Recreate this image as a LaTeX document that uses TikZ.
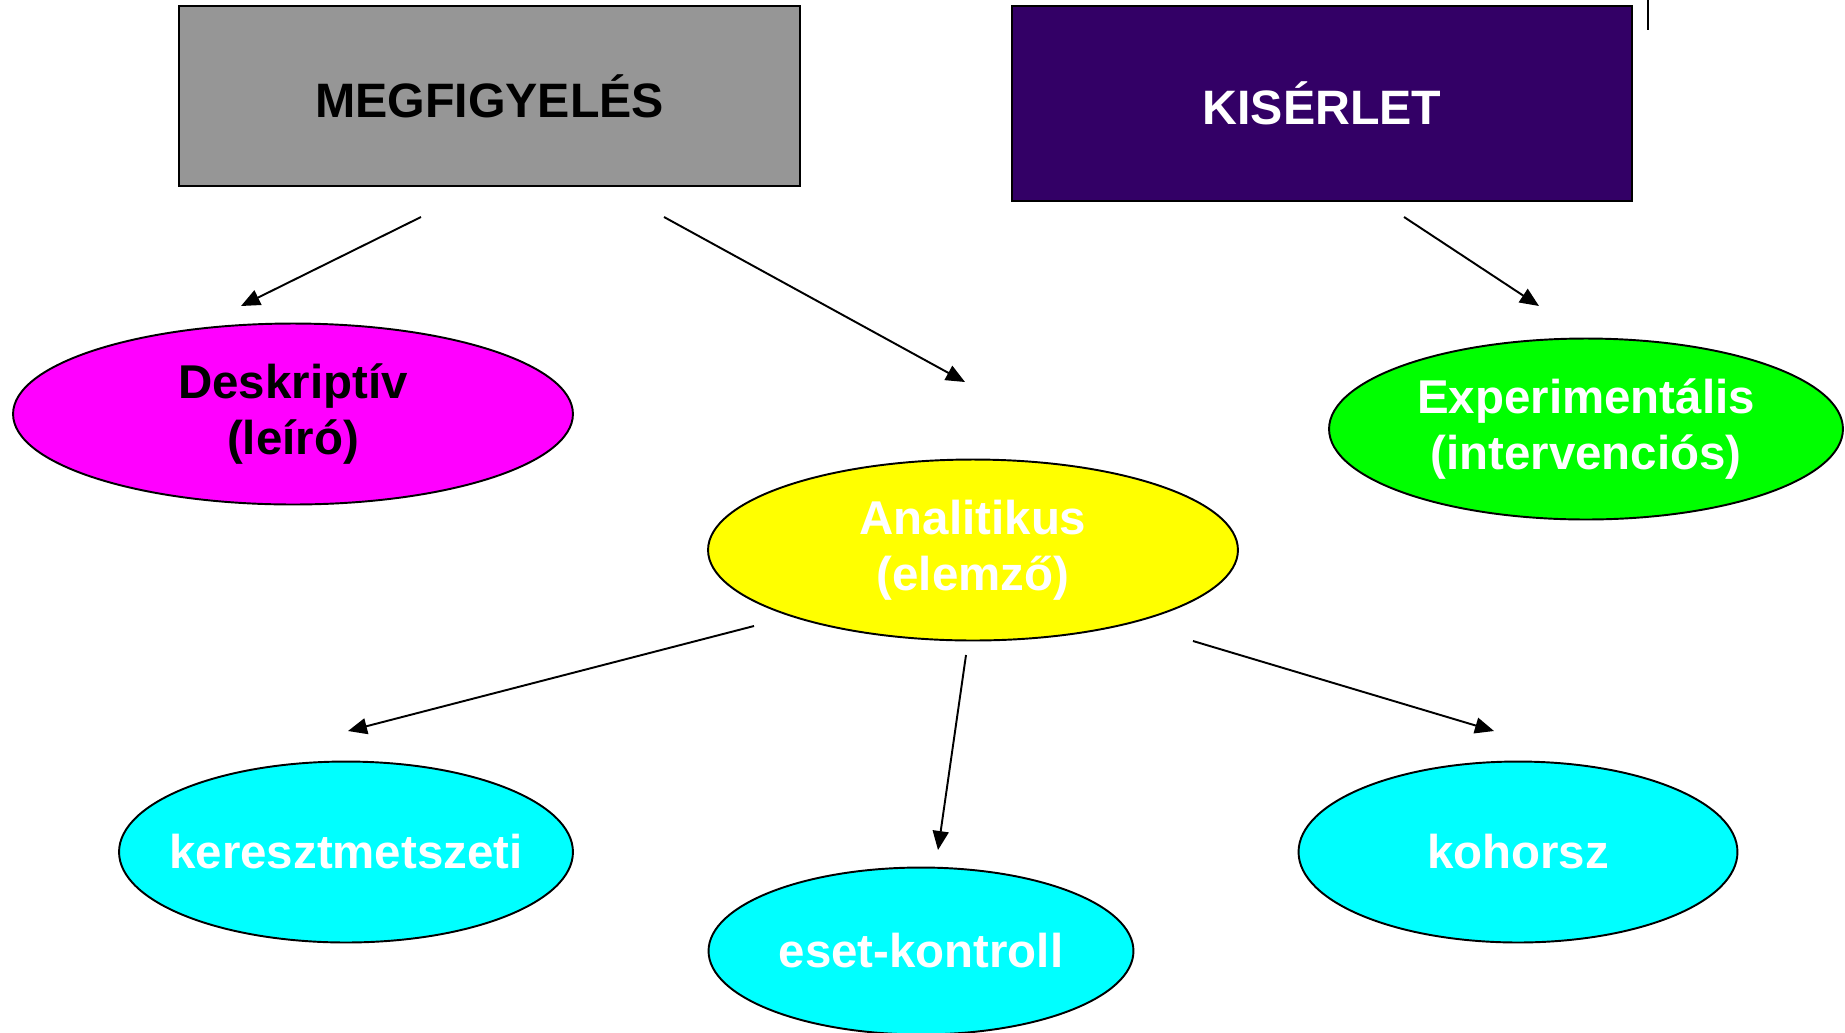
\documentclass[tikz,border=0pt]{standalone}
\usepackage{fontspec}
\setmainfont{Liberation Sans}
\usetikzlibrary{arrows.meta,shapes.geometric}

\definecolor{boxgray}{HTML}{969696}
\definecolor{boxpurple}{HTML}{330066}
\definecolor{descpink}{HTML}{FF00FF}
\definecolor{analyellow}{HTML}{FFFF00}
\definecolor{expgreen}{HTML}{00FF00}
\definecolor{studycyan}{HTML}{00FFFF}

\begin{document}
\begin{tikzpicture}[x=0.02cm,y=-0.02cm]
\tikzset{
  topbox/.style={rectangle,draw=black,line width=1.1pt,minimum width=12.42cm,inner sep=0pt,
    font=\fontsize{27.5}{32}\selectfont\bfseries},
  typenode/.style={ellipse,draw=black,line width=1.1pt,minimum height=3.62cm,inner sep=0pt,inner xsep=-1cm,
    align=center,font=\fontsize{27}{32}\selectfont\bfseries,text=white},
  directed/.style={-{Triangle[length=3.8mm,width=3.2mm]},line width=1.1pt}
}
\useasboundingbox (0,0) rectangle (1845,1032);
\node[topbox,fill=boxgray,minimum height=3.6cm] (n_meg) at (489.5,96) {MEGFIGYELÉS};
\node[topbox,fill=boxpurple,text=white,minimum height=3.9cm] (n_kis) at (1322,103.5) {KISÉRLET};
\node[typenode,fill=descpink,text=black,minimum width=11.2cm] (n_desk) at (293,414) {Deskriptív\\(leíró)};
\node[typenode,fill=analyellow,minimum width=10.6cm] (n_anal) at (973,550) {Analitikus\\(elemző)};
\node[typenode,fill=expgreen,minimum width=10.28cm] (n_exp) at (1586,429) {Experimentális\\(intervenciós)};
\node[typenode,fill=studycyan,minimum width=9.08cm] (n_kereszt) at (346,852) {keresztmetszeti};
\node[typenode,fill=studycyan,minimum width=8.5cm,minimum height=3.34cm] (n_eset) at (921,951) {eset-kontroll};
\node[typenode,fill=studycyan,minimum width=8.78cm] (n_kohorsz) at (1518,852) {kohorsz};
% free arrow ends
\coordinate (c_meg1) at (421,217);
\coordinate (c_desk) at (241,306);
\coordinate (c_meg2) at (664,217);
\coordinate (c_anal) at (965,382);
\coordinate (c_kis) at (1404,217);
\coordinate (c_exp) at (1539,306);
\coordinate (c_anal1) at (754,626);
\coordinate (c_kereszt) at (348,731);
\coordinate (c_anal2) at (966,655);
\coordinate (c_eset) at (938,850);
\coordinate (c_anal3) at (1193,641);
\coordinate (c_kohorsz) at (1494,731);
\draw[directed] (c_meg1) -- (c_desk);
\draw[directed] (c_meg2) -- (c_anal);
\draw[directed] (c_kis) -- (c_exp);
\draw[directed] (c_anal1) -- (c_kereszt);
\draw[directed] (c_anal2) -- (c_eset);
\draw[directed] (c_anal3) -- (c_kohorsz);
% stray mark top right
\coordinate (c_mark1) at (1648,0);
\coordinate (c_mark2) at (1648,30);
\draw[line width=1.1pt] (c_mark1) -- (c_mark2);
\end{tikzpicture}
\end{document}
